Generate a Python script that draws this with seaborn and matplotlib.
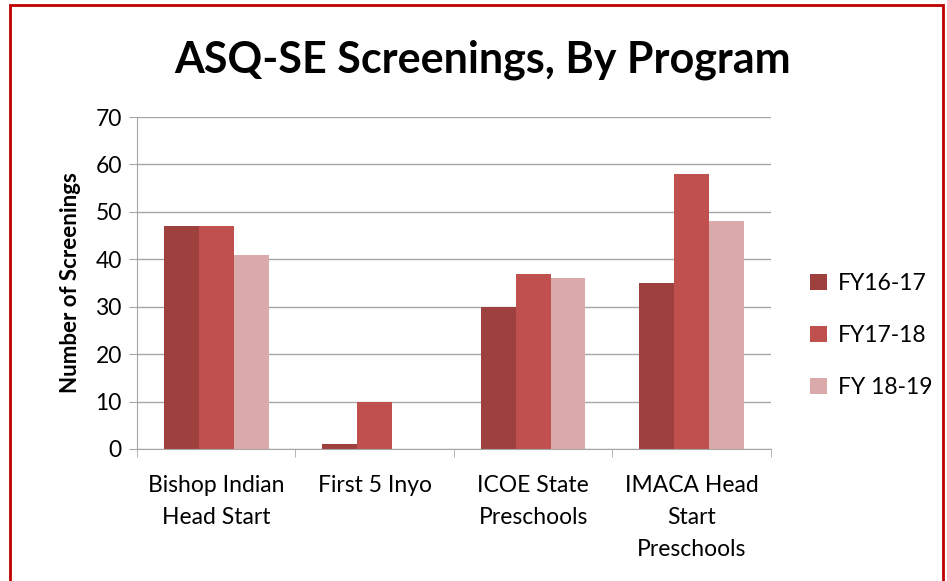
import pandas as pd
import matplotlib.pyplot as plt
import seaborn as sns
from matplotlib.patches import Rectangle
from matplotlib.ticker import FixedLocator

programs = ['Bishop Indian\nHead Start', 'First 5 Inyo', 'ICOE State\nPreschools', 'IMACA Head\nStart\nPreschools']
years = ['FY16-17', 'FY17-18', 'FY 18-19']
fy16_17 = [47, 1, 30, 35]
fy17_18 = [47, 10, 37, 58]
fy18_19 = [41, 0, 36, 48]
colours = ['#9E413E', '#C0504D', '#D9AAA9']

df = pd.DataFrame({
    'program': programs * 3,
    'year': [y for y in years for _ in programs],
    'screenings': fy16_17 + fy17_18 + fy18_19,
})

sns.set_style('white')
plt.rcParams['font.family'] = ['Lato', 'DejaVu Sans']
plt.rcParams['text.color'] = 'black'
plt.rcParams['xtick.color'] = 'black'
plt.rcParams['ytick.color'] = 'black'

fig = plt.figure(figsize=(9.47, 5.81), dpi=100)
ax = fig.add_axes([0.1447, 0.2272, 0.6693, 0.5714])

sns.barplot(data=df, x='program', y='screenings', hue='year', palette=colours,
            width=0.66, saturation=1, ax=ax, edgecolor='none', legend=True)

ax.set_ylim(0, 70)
ax.set_xlim(-0.5, 3.5)
ax.set_yticks(range(0, 71, 10))
ax.yaxis.grid(True, color='#A6A6A6', linewidth=1)
ax.set_axisbelow(True)
for s in ['top', 'right']:
    ax.spines[s].set_visible(False)
ax.spines['left'].set_color('#A6A6A6')
ax.spines['bottom'].set_color('#A6A6A6')

'''ticks between the groups, like Excel'''
ax.xaxis.set_minor_locator(FixedLocator([-0.5, 0.5, 1.5, 2.5, 3.5]))
ax.tick_params(axis='x', which='major', length=0, pad=19, labelsize=16.5)
ax.tick_params(axis='x', which='minor', length=6, color='#A6A6A6', direction='out', bottom=True)
ax.tick_params(axis='y', length=6, color='#A6A6A6', labelcolor='black', direction='out', left=True, labelsize=16.5, pad=5)
for t in ax.get_xticklabels():
    t.set_linespacing(1.65)

ax.set_xlabel('')
ax.set_ylabel('Number of Screenings', fontsize=16, fontweight='bold', labelpad=10, color='black')

fig.text(0.51, 0.897, 'ASQ-SE Screenings, By Program', ha='center', va='center',
         fontsize=31, fontweight='bold', color='black')

leg = ax.legend(loc='center left', bbox_to_anchor=(1.03, 0.343), frameon=False,
                fontsize=16.5, handlelength=0.7, handleheight=0.7, labelspacing=1.35, handletextpad=0.5)

fig.patches.append(Rectangle((0.011, -0.05), 0.985, 1.042, transform=fig.transFigure,
                             fill=False, edgecolor='#C00000', linewidth=2))

fig.savefig('out.png', dpi=100)
